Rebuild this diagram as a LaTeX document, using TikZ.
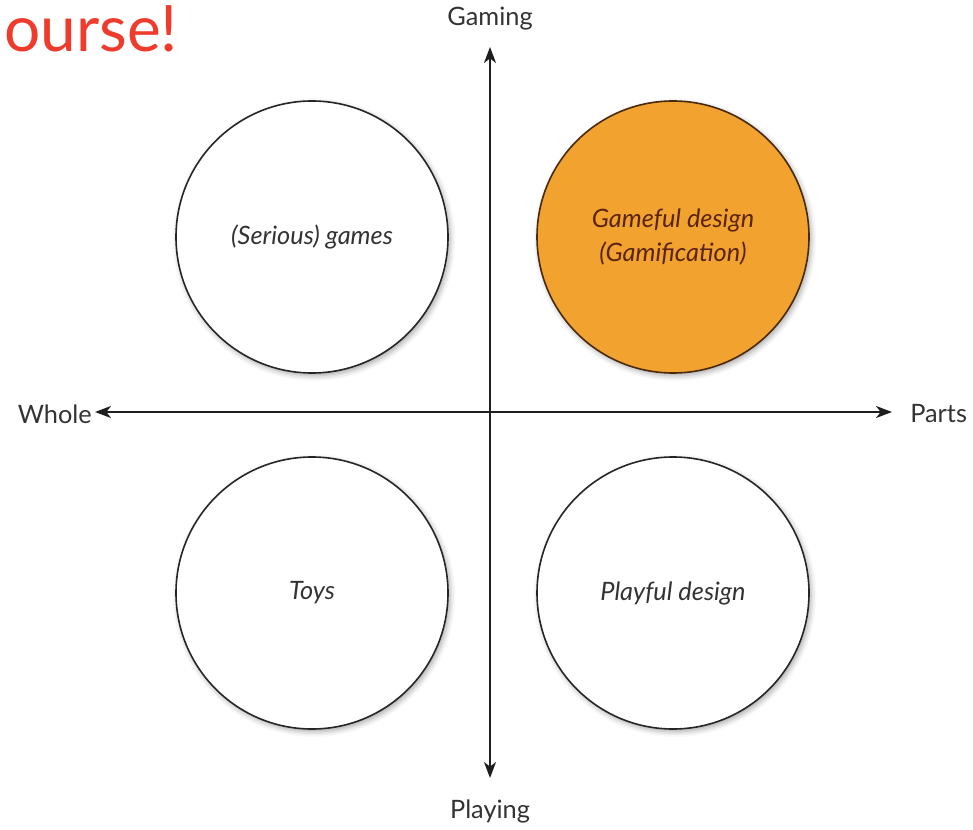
\documentclass[tikz,border=0pt]{standalone}
\usepackage{fontspec}
\setmainfont{Lato}
\usetikzlibrary{arrows.meta,shadows.blur}

\definecolor{axisgray}{HTML}{1E1E1E}
\definecolor{labelgray}{HTML}{333333}
\definecolor{gamefulfill}{HTML}{F2A22E}
\definecolor{gamefuledge}{HTML}{4A2A0C}
\definecolor{gamefultext}{HTML}{5A2410}
\definecolor{titlered}{HTML}{EE3B2B}

\tikzset{
  quadrant/.style={circle, draw=black!85, line width=1.2pt, fill=white,
    minimum size=204pt, inner sep=0pt, align=center,
    font=\fontsize{19}{25}\selectfont\itshape, text=labelgray,
    blur shadow={shadow xshift=1.5pt, shadow yshift=-2pt,
      shadow blur radius=4pt, shadow opacity=35}},
  highlight/.style={fill=gamefulfill, draw=gamefuledge, text=gamefultext},
  axis/.style={draw=axisgray, line width=1.5pt,
    -{Stealth[length=12pt, width=9pt, inset=3.5pt]}},
  axislabel/.style={text=labelgray, font=\fontsize{19}{22}\selectfont, inner sep=0pt}
}

\begin{document}
\begin{tikzpicture}[x=0.75pt, y=-0.75pt]
  \useasboundingbox (0,0) rectangle (973,830);

  % heading fragment in the corner
  \node[anchor=base west, inner sep=0pt, text=titlered,
        font=\fontsize{48}{52}\selectfont] (title) at (4,52) {ourse!};

  % the four quadrant circles
  \node[quadrant] (serious) at (312,237) {(Serious) games};
  \node[quadrant, highlight] (gameful) at (673,237) {Gameful design\\(Gamification)};
  \node[quadrant] (toys) at (312,593) {Toys};
  \node[quadrant] (playful) at (673,593) {Playful design};

  % axis end labels
  \node[axislabel] (gaming) at (490,19) {Gaming};
  \node[axislabel] (playing) at (490,811) {Playing};
  \node[axislabel, anchor=east] (whole) at (92,414) {Whole};
  \node[axislabel, anchor=west] (parts) at (910,414) {Parts};

  % axis ends and crossing point
  \coordinate (top) at (490,47);
  \coordinate (bottom) at (490,778);
  \coordinate (left) at (95,412);
  \coordinate (right) at (892,412);
  \coordinate (origin) at (490,412);

  \draw[axis] (origin) -- (top);
  \draw[axis] (origin) -- (bottom);
  \draw[axis] (origin) -- (left);
  \draw[axis] (origin) -- (right);
\end{tikzpicture}
\end{document}
